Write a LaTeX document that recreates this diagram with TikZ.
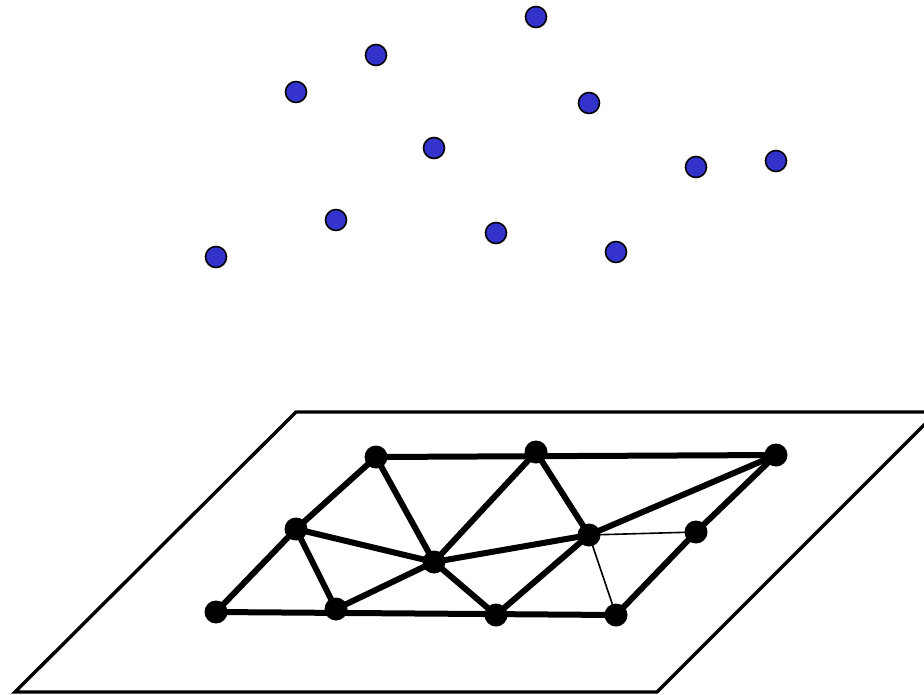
\documentclass[tikz,border=0pt]{standalone}
\definecolor{ptblue}{RGB}{51,51,204}
\tikzset{
  bluept/.style={circle,draw=black,line width=1.6pt,fill=ptblue,inner sep=0pt,minimum size=21pt},
  blackpt/.style={circle,fill=black,inner sep=0pt,minimum size=23pt},
  thickedge/.style={line width=6pt},
  thinedge/.style={line width=1.6pt},
  plane/.style={line width=3.4pt,line join=miter}
}
\begin{document}
\begin{tikzpicture}[x=1pt,y=-1pt]
\useasboundingbox (0,0) rectangle (924,694);
\clip (0,0) rectangle (924,694);
% plane
\coordinate (p1) at (15,692);
\coordinate (p2) at (657,692);
\coordinate (p3) at (937,412);
\coordinate (p4) at (296,412);
\draw[plane] (p1) -- (p2) -- (p3) -- (p4) -- cycle;
% top points
\node[bluept] (t1) at (536,17) {};
\node[bluept] (t2) at (376,55) {};
\node[bluept] (t3) at (296,92) {};
\node[bluept] (t4) at (589,103) {};
\node[bluept] (t5) at (434,148) {};
\node[bluept] (t6) at (696,167) {};
\node[bluept] (t7) at (776,161) {};
\node[bluept] (t8) at (336,220) {};
\node[bluept] (t9) at (496,233) {};
\node[bluept] (t10) at (616,252) {};
\node[bluept] (t11) at (216,257) {};
% bottom coordinates
\coordinate (A) at (216,612);
\coordinate (B) at (336,609);
\coordinate (C) at (496,615);
\coordinate (D) at (616,615);
\coordinate (E) at (296,529);
\coordinate (F) at (434,562);
\coordinate (G) at (589,535);
\coordinate (H) at (696,532);
\coordinate (I) at (376,457);
\coordinate (J) at (536,452);
\coordinate (K) at (776,455);
% edges
\draw[thinedge] (G) -- (H);
\draw[thinedge] (G) -- (D);
\draw[thickedge] (I) -- (K);
\draw[thickedge] (A) -- (D);
\draw[thickedge] (I) -- (E) -- (A);
\draw[thickedge] (D) -- (H) -- (K);
\draw[thickedge] (I) -- (F);
\draw[thickedge] (E) -- (F);
\draw[thickedge] (E) -- (B);
\draw[thickedge] (B) -- (F);
\draw[thickedge] (F) -- (C);
\draw[thickedge] (F) -- (G);
\draw[thickedge] (F) -- (J);
\draw[thickedge] (J) -- (G);
\draw[thickedge] (G) -- (K);
\draw[thickedge] (G) -- (C);
% bottom points
\foreach \p in {A,B,C,D,E,F,G,H,I,J,K}
  \node[blackpt] (n\p) at (\p) {};
\end{tikzpicture}
\end{document}
